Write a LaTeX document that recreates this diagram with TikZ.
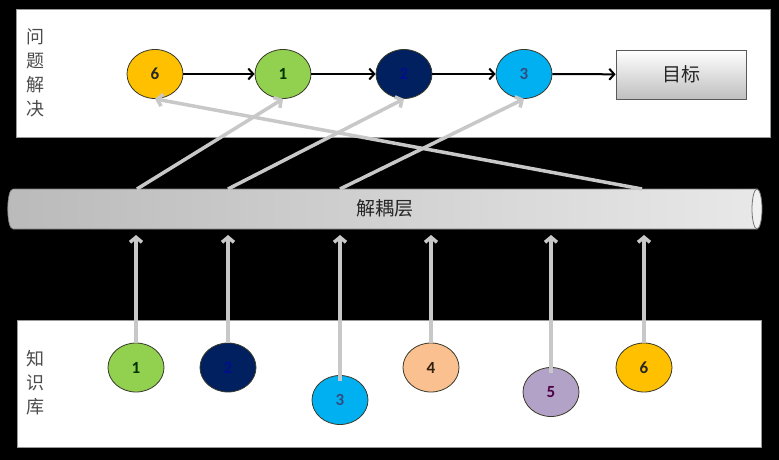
\documentclass[tikz,border=0pt]{standalone}
\usepackage{fontspec}
\setmainfont{Carlito}
\newfontfamily\cjk{Noto Sans CJK SC}
\usetikzlibrary{arrows.meta,shapes.geometric}
\definecolor{cOrange}{HTML}{FFC000}
\definecolor{cGreen}{HTML}{92D050}
\definecolor{cNavy}{HTML}{002060}
\definecolor{cSky}{HTML}{00B0F0}
\definecolor{cPeach}{HTML}{FAC090}
\definecolor{cLav}{HTML}{B3A2C7}
\definecolor{cLine}{HTML}{C8C8C8}
\definecolor{cEdge}{HTML}{3A3A2A}
\tikzset{
  ball/.style={ellipse, draw=cEdge, line width=0.8pt, minimum width=56pt, minimum height=49pt,
    inner sep=0pt, font=\bfseries\fontsize{17}{17}\selectfont},
  gline/.style={draw=cLine, line width=3.5pt, -{Straight Barb[length=5pt,width=12pt]}},
  barrow/.style={draw=black, line width=2pt, -{Straight Barb[length=5pt,width=11pt]}},
  sidelabel/.style={align=center, text=black!70, font=\cjk\fontsize{18}{24}\selectfont},
  panel/.style={draw=black!40, fill=white, line width=0.6pt}
}
\begin{document}
\begin{tikzpicture}[x=1pt,y=-1pt]
\fill[black] (0,0) rectangle (779,460);
\useasboundingbox (0,0) rectangle (779,460);
% panels
\path[panel] (16,9) rectangle (770,137);
\path[panel] (17,320) rectangle (761,447);
% side labels
\node[sidelabel] (lblTop) at (35,73) {问\\题\\解\\决};
\node[sidelabel] (lblBot) at (35,383) {知\\识\\库};
% top row
\node[ball, fill=cOrange, text=black!85] (p6) at (155,74) {6};
\node[ball, fill=cGreen, text=black!80!green] (p1) at (283,74) {1};
\node[ball, fill=cNavy, text=cNavy!70!black!60!blue] (p2) at (404,74) {2};
\node[ball, fill=cSky, text=cNavy!80] (p3) at (524,74) {3};
\node[draw=black!65, line width=0.8pt, top color=white, bottom color=black!25,
  minimum width=130pt, minimum height=49pt, inner sep=0pt,
  font=\cjk\fontsize{19}{19}\selectfont, text=black!85] (goal) at (681,74.5) {目标};
\draw[barrow] (p6) -- (p1);
\draw[barrow] (p1) -- (p2);
\draw[barrow] (p2) -- (p3);
\draw[barrow] (p3) -- (goal);
% decoupling bar
\shade[left color=black!27, right color=black!9, draw=black!50, line width=0.6pt]
  (13,189) -- (757,189) -- (757,229) -- (13,229) .. controls (6,229) and (6,189) .. (13,189) -- cycle;
\draw[black!55, fill=black!6, line width=0.8pt] (757,209) ellipse [x radius=5, y radius=20];
\node[font=\cjk\fontsize{19}{19}\selectfont, text=black!85] (bar) at (385,208) {解耦层};
\coordinate (t1) at (137,189);
\coordinate (t2) at (228,189);
\coordinate (t3) at (340,189);
\coordinate (t4) at (642,189);
\coordinate (bb) at (0,235);
% bottom row
\node[ball, fill=cGreen, text=black!80!green] (k1) at (136,367.5) {1};
\node[ball, fill=cNavy, text=cNavy!70!black!60!blue] (k2) at (228,367.5) {2};
\node[ball, fill=cSky, text=cNavy!80] (k3) at (340,400) {3};
\node[ball, fill=cPeach, text=black!75!brown] (k4) at (431,367.5) {4};
\node[ball, fill=cLav, text=black!70!blue!60!purple] (k5) at (551,392) {5};
\node[ball, fill=cOrange, text=black!85] (k6) at (644,367.5) {6};
% upward connectors to bar
\draw[gline] (k1.north) -- (k1.north |- bb);
\draw[gline] (k2.north) -- (k2.north |- bb);
\draw[gline] ([yshift=-6pt]k3.north) -- (k3.north |- bb);
\draw[gline] (k4.north) -- (k4.north |- bb);
\draw[gline] ([yshift=-6pt]k5.north) -- (k5.north |- bb);
\draw[gline] (k6.north) -- (k6.north |- bb);
% bar to problem solving
\draw[gline] (t1) -- (p1.south);
\draw[gline] (t2) -- (p2.south);
\draw[gline] (t3) -- (p3.south);
\draw[gline] (t4) -- (p6.south);
\end{tikzpicture}
\end{document}
